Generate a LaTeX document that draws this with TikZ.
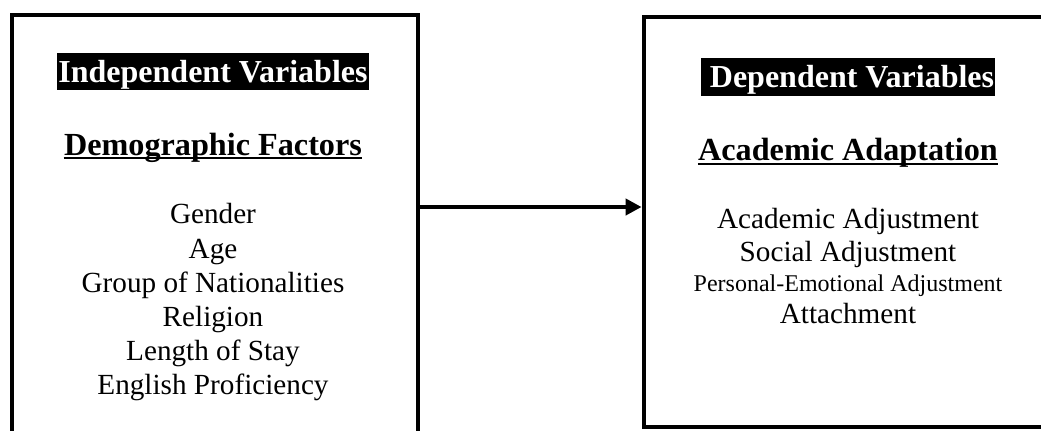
\documentclass[tikz,border=0pt]{standalone}
\usepackage{fontspec}
\setmainfont{Liberation Serif}
\usetikzlibrary{arrows.meta}
\begin{document}
\begin{tikzpicture}[x=0.5pt,y=-0.5pt,
  frame/.style={draw=black,line width=2.4pt,inner sep=0pt,fill=none},
  title/.style={fill=black,text=white,font=\fontsize{16}{19}\selectfont\bfseries,inner ysep=0pt,inner xsep=0.6pt,text height=14.6pt,text depth=4.2pt,anchor=base},
  head/.style={font=\fontsize{16.1}{19}\selectfont\bfseries,inner sep=0pt,anchor=base},
  item/.style={font=\fontsize{14.6}{17}\selectfont,inner sep=0pt,anchor=base},
  small/.style={font=\fontsize{12}{14}\selectfont,inner sep=0pt,anchor=base},
  uline/.style={line width=1.2pt},
  conn/.style={line width=2.4pt,-{Triangle[length=8pt,width=8pt]}}]
\useasboundingbox (0,0) rectangle (1041,430);
\clip (0,0) rectangle (1041,430);
% boxes
\node[frame,minimum width=203pt,minimum height=220pt] (L) at (215,235) {};
\node[frame,minimum width=205pt,minimum height=205pt] (R) at (849,222) {};
% left texts
\node[title] (it) at (213,82) {Independent Variables};
\node[head] (dem) at (213,155) {Demographic Factors};
\draw[uline] ([yshift=-1.5pt]dem.base west) -- ([yshift=-1.5pt]dem.base east);
\node[item] (l1) at (213,223) {Gender};
\node[item] (l2) at (213,258) {Age};
\node[item] (l3) at (213,292) {Group of Nationalities};
\node[item] (l4) at (213,326) {Religion};
\node[item] (l5) at (213,360) {Length of Stay};
\node[item] (l6) at (213,394) {English Proficiency};
% right texts
\node[title] (dt) at (848,87.5) {\hspace{4pt}Dependent Variables};
\node[head] (aa) at (848,160) {Academic Adaptation};
\draw[uline] ([yshift=-2pt]aa.base west) -- ([yshift=-2pt]aa.base east);
\node[item] (r1) at (848,228) {Academic Adjustment};
\node[item] (r2) at (848,261.5) {Social Adjustment};
\node[small] (r3) at (848,291.5) {Personal-Emotional Adjustment};
\node[item] (r4) at (848,323) {Attachment};
% connector
\coordinate (ay) at (0,207);
\draw[conn] (L.east |- ay) -- (R.west |- ay);
\end{tikzpicture}
\end{document}
